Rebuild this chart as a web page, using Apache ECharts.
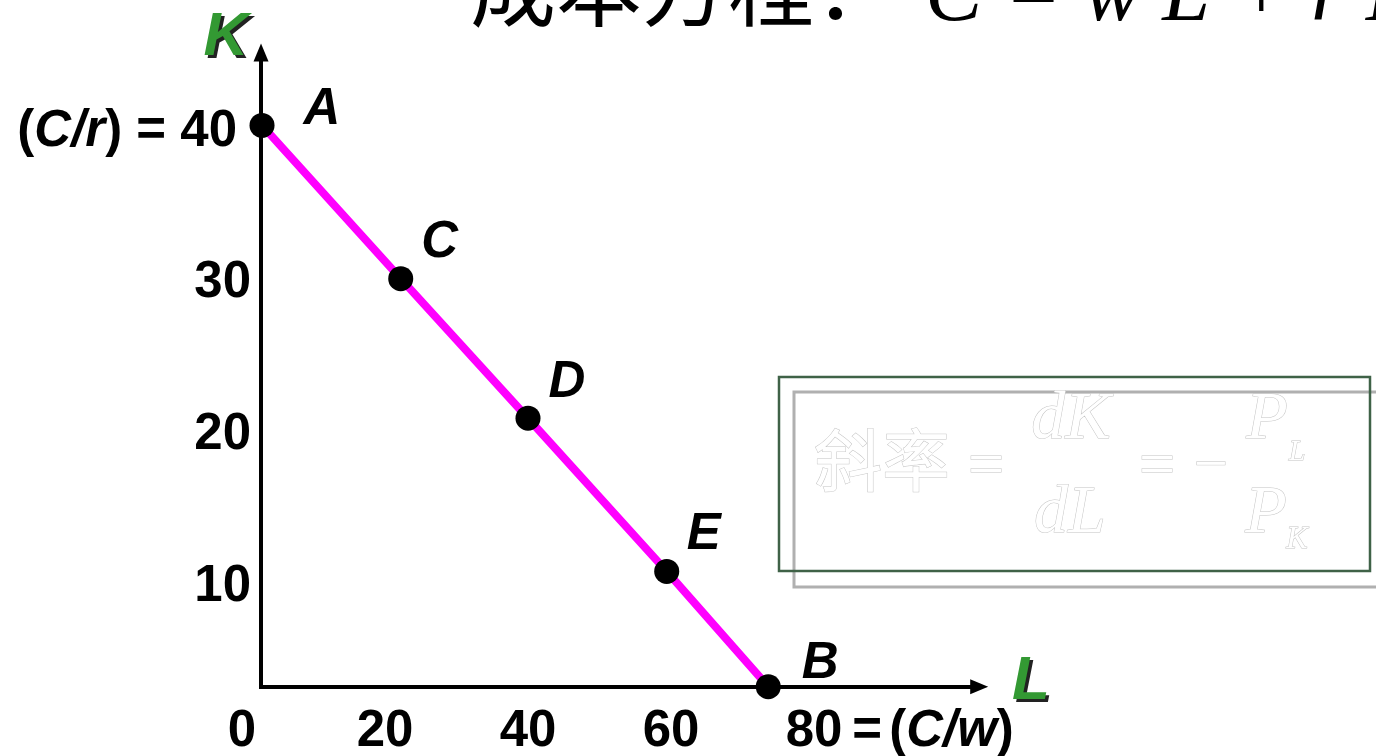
<!DOCTYPE html>
<html><head><meta charset="utf-8">
<script src="https://cdn.jsdelivr.net/npm/echarts@6/dist/echarts.min.js"></script>
<style>html,body{margin:0;padding:0;background:#fff}#c{width:1376px;height:756px}</style>
</head><body><div id="c"></div>
<script>
// ---- data ----
const pointNames = ['A', 'C', 'D', 'E', 'B'];
const laborL = [2.8, 22.2, 40.0, 59.4, 73.6];
const capitalK = [40.2, 30.1, 20.9, 10.8, 3.2];
const xTickValues = [0, 20, 40, 60, 80];
const yTickValues = [10, 20, 30, 40];
const axisCross = [2.66, 3.2];   // where the drawn L and K axes meet (data units)
const xAxisEnd = 103.1;
const yAxisEnd = 45.0;
const titleCJK = '成本方程：';
const titleFormula = 'C = w L + r K';

// ---- styles ----
const SANS = '"Liberation Sans", Arial, sans-serif';
const SERIF = '"Liberation Serif", "Times New Roman", serif';
const CJK = '"Noto Sans CJK SC", sans-serif';
const FS = 51;
const labelOffsets = [[60, -15], [39, -36], [39, -35], [37, -36], [52, -23]];
const GAP1 = 10, GAP2 = 7;

function measure(text, font) {
  const c = document.createElement('canvas').getContext('2d');
  c.font = font; return c.measureText(text).width;
}
const tailWidth = GAP1 + measure('=', `bold ${FS}px ${SANS}`) + GAP2 + measure('(', `bold ${FS}px ${SANS}`) +
  measure('C/w', `italic bold ${FS}px ${SANS}`) + measure(')', `bold ${FS}px ${SANS}`);

const richLab = {
  b: { fontSize: FS, fontWeight: 'bold', fontFamily: SANS, color: '#000' },
  bi: { fontSize: FS, fontWeight: 'bold', fontStyle: 'italic', fontFamily: SANS, color: '#000' },
  pad: { width: tailWidth, fontSize: FS },
  g1: { width: GAP1, fontSize: FS },
  g2: { width: GAP2, fontSize: FS },
  sp: { width: 14, fontSize: FS }
};

const outline = { fill: '#ffffff', stroke: '#c4c4c4', lineWidth: 1 };
function otext(x, y, text, font, align) {
  return { type: 'text', x: x, y: y, z: 20,
    style: Object.assign({ text: text, font: font, align: align || 'center', verticalAlign: 'middle' }, outline) };
}

const chart = echarts.init(document.getElementById('c'), null, { renderer: 'canvas' });
chart.setOption({
  animation: false,
  backgroundColor: '#ffffff',
  grid: { left: 242, top: 37.43, width: 750.75, height: 697.82, containLabel: false, outerBoundsMode: 'none' },
  xAxis: {
    type: 'value', min: 0, max: 105, interval: 20,
    axisLine: { show: false }, axisTick: { show: false }, splitLine: { show: false },
    axisLabel: {
      margin: -3.5, verticalAlign: 'middle', hideOverlap: false,
      formatter: function (v) {
        if (v === 80) return '{pad| }{b|80}{g1| }{b|=}{g2| }{b|(}{bi|C/w}{b|)}';
        return xTickValues.indexOf(v) >= 0 ? '{b|' + v + '}' : '';
      },
      rich: richLab
    }
  },
  yAxis: {
    type: 'value', min: 0, max: 46, interval: 10,
    axisLine: { show: false }, axisTick: { show: false }, splitLine: { show: false },
    axisLabel: {
      margin: -9, hideOverlap: false, padding: [6, 0, 0, 0],
      formatter: function (v) {
        if (v === 40) return '{b|(}{bi|C/r}{b|) = 40}{sp| }';
        return yTickValues.indexOf(v) >= 0 ? '{b|' + v + '}' : '';
      },
      rich: richLab
    }
  },
  series: [
    {
      type: 'line', z: 2, symbol: 'none', silent: true,
      lineStyle: { color: '#ff00ff', width: 8, opacity: 1 },
      data: laborL.map((x, i) => [x, capitalK[i]]),
      markLine: {
        z: 1, silent: true, symbol: ['none', 'triangle'], symbolSize: [15, 18],
        label: { show: false },
        lineStyle: { color: '#000', width: 4, type: 'solid', cap: 'square', opacity: 1 },
        itemStyle: { color: '#000' },
        emphasis: { disabled: true },
        data: [
          [{ coord: [axisCross[0], axisCross[1]] }, { coord: [xAxisEnd, axisCross[1]] }],
          [{ coord: [axisCross[0], axisCross[1]] }, { coord: [axisCross[0], yAxisEnd] }]
        ]
      }
    },
    {
      type: 'scatter', z: 3, symbol: 'circle', symbolSize: 25, silent: true,
      itemStyle: { color: '#000', opacity: 1 },
      label: {
        show: true, position: 'inside', formatter: '{b}', opacity: 1,
        fontSize: FS, fontWeight: 'bold', fontStyle: 'italic', fontFamily: SANS, color: '#000'
      },
      data: laborL.map((x, i) => ({ name: pointNames[i], value: [x, capitalK[i]], label: { offset: labelOffsets[i] } }))
    }
  ],
  graphic: [
    { type: 'text', x: 470, y: -13, z: 20, style: { text: titleCJK, font: `86px ${CJK}`, fill: '#000', align: 'left', verticalAlign: 'middle' } },
    { type: 'text', x: 925, y: -3, z: 20, style: { text: titleFormula, font: `italic 86px ${SERIF}`, fill: '#000', align: 'left', verticalAlign: 'middle' } },
    // axis names with shadow
    { type: 'text', x: 229, y: 41, z: 19, style: { text: 'K', font: `italic bold 62px ${SANS}`, fill: '#222', align: 'center', verticalAlign: 'middle' } },
    { type: 'text', x: 226, y: 38, z: 20, style: { text: 'K', font: `italic bold 62px ${SANS}`, fill: '#339933', align: 'center', verticalAlign: 'middle' } },
    { type: 'text', x: 1034, y: 685, z: 19, style: { text: 'L', font: `italic bold 62px ${SANS}`, fill: '#222', align: 'center', verticalAlign: 'middle' } },
    { type: 'text', x: 1031, y: 682, z: 20, style: { text: 'L', font: `italic bold 62px ${SANS}`, fill: '#339933', align: 'center', verticalAlign: 'middle' } },
    // slope box
    { type: 'rect', z: 10, shape: { x: 794, y: 392, width: 600, height: 195 }, style: { fill: 'none', stroke: '#b0b0b0', lineWidth: 3 } },
    { type: 'rect', z: 11, shape: { x: 779, y: 377, width: 591, height: 194 }, style: { fill: 'none', stroke: '#3f6247', lineWidth: 2.5 } },
    otext(814, 460, '斜率', `68px ${CJK}`, 'left'),
    otext(986, 468, '=', `64px ${SERIF}`),
    otext(1071, 420, 'dK', `italic 68px ${SERIF}`),
    otext(1070, 514, 'dL', `italic 68px ${SERIF}`),
    otext(1157, 468, '=', `64px ${SERIF}`),
    otext(1211, 467, '−', `60px ${SERIF}`),
    otext(1267, 420, 'P', `italic 68px ${SERIF}`),
    otext(1297, 452, 'L', `italic 30px ${SERIF}`),
    otext(1266, 514, 'P', `italic 68px ${SERIF}`),
    otext(1297, 540, 'K', `italic 32px ${SERIF}`)
  ]
});
</script>
</body></html>
